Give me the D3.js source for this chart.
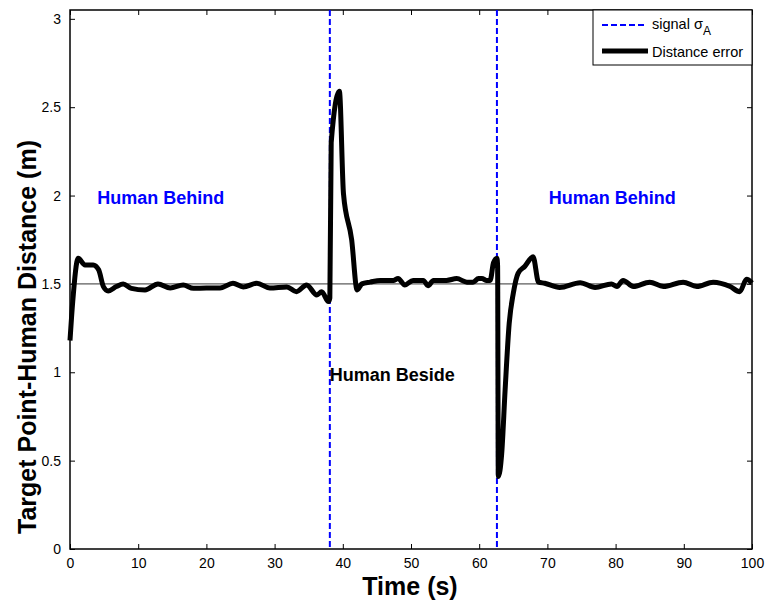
<!DOCTYPE html>
<html>
<head>
<meta charset="utf-8">
<script src="https://cdn.jsdelivr.net/npm/d3@7"></script>
<style>
  body { margin: 0; background: #fff; }
  svg { font-family: "Liberation Sans", Arial, sans-serif; }
</style>
</head>
<body>
<svg width="776" height="600"></svg>
<script>
  // time (s) and distance error (m)
  const time = [0, 0.4, 1.2, 2.2, 3.4, 4.2, 4.9, 5.6, 6.8, 7.8, 9.0, 11, 12.9, 14.7, 16.6, 18.1, 20, 22, 23.9, 25.4,
    27.4, 29.3, 31.8, 33.2, 34.7, 36.2, 36.9, 37.9, 38.1, 38.3, 39.5, 40.1, 41.3, 42.1, 42.8, 44, 45.5, 47.4,
    48.1, 49.1, 50.3, 51.8, 52.5, 53.3, 55.2, 56.7, 58.2, 59.1, 59.9, 60.4, 61.1, 61.6, 62.1, 62.6, 62.7,
    62.8, 63.3, 63.8, 64.4, 65, 65.7, 66.7, 67.9, 68.7, 69.6, 71.8, 74.8, 77, 79.4, 80.2, 81.1, 82.6, 85, 87,
    89.9, 91.9, 94.3, 96.8, 98.2, 99.2, 100]
  const distErr = [1.18, 1.40, 1.645, 1.607, 1.607, 1.58, 1.485, 1.46, 1.485, 1.50, 1.475, 1.466, 1.50, 1.477,
    1.494, 1.475, 1.477, 1.477, 1.504, 1.483, 1.504, 1.477, 1.483, 1.456, 1.494, 1.437, 1.456, 1.40, 1.42, 2.30,
    2.59, 2.01, 1.75, 1.466, 1.50, 1.51, 1.52, 1.52, 1.53, 1.494, 1.52, 1.52, 1.49, 1.52, 1.52, 1.53, 1.51, 1.51,
    1.53, 1.53, 1.52, 1.52, 1.62, 1.645, 1.60, 0.41, 0.54, 0.90, 1.277, 1.447, 1.56, 1.60, 1.654, 1.51, 1.504,
    1.48, 1.507, 1.48, 1.50, 1.485, 1.52, 1.485, 1.51, 1.485, 1.51, 1.485, 1.51, 1.485, 1.456, 1.526, 1.505]

  const signalTimes = [38.1, 62.6]
  const reference = 1.5
  const xTicks = [0, 10, 20, 30, 40, 50, 60, 70, 80, 90, 100]
  const yTicks = [0, 0.5, 1, 1.5, 2, 2.5, 3]
  const regionLabels = [
    { t: 13.3, v: 1.99, text: 'Human Behind', color: '#0000ff', anchor: 'middle' },
    { t: 79.5, v: 1.99, text: 'Human Behind', color: '#0000ff', anchor: 'middle' },
    { t: 38.1, v: 0.985, text: 'Human Beside', color: '#000', anchor: 'start' }
  ]

  const svg = d3.select('svg')
  const margin = { top: 10, right: 24, bottom: 51, left: 70 }
  const width = 776 - margin.left - margin.right
  const height = 600 - margin.top - margin.bottom

  const x = d3.scaleLinear().domain([0, 100]).range([0, width])
  const y = d3.scaleLinear().domain([0, 3.05]).range([height, 0])

  const g = svg.append('g').attr('transform', `translate(${margin.left},${margin.top})`)

  // axes, ticks pointing inward, box on all sides
  const tickStyle = sel => {
    sel.select('.domain').remove()
    sel.selectAll('line').attr('stroke', '#000')
    sel.selectAll('text').attr('font-size', 14).attr('fill', '#000')
  }
  g.append('g').attr('transform', `translate(0,${height})`).
    call(d3.axisBottom(x).tickValues(xTicks).tickSize(-5).tickPadding(9)).
    call(tickStyle)
  g.append('g').
    call(d3.axisLeft(y).tickValues(yTicks).tickFormat(d3.format('')).tickSize(-5).tickPadding(9)).
    call(tickStyle)
  g.append('g').
    call(d3.axisTop(x).tickValues(xTicks).tickSize(-5).tickFormat('')).
    call(tickStyle)
  g.append('g').attr('transform', `translate(${width},0)`).
    call(d3.axisRight(y).tickValues(yTicks).tickSize(-5).tickFormat('')).
    call(tickStyle)
  g.append('rect').attr('width', width).attr('height', height).
    attr('fill', 'none').attr('stroke', '#000').attr('stroke-width', 1.5)

  // reference line
  g.append('line').
    attr('x1', 0).attr('x2', width).
    attr('y1', y(reference)).attr('y2', y(reference)).
    attr('stroke', '#333').attr('stroke-width', 1)

  // signal switches
  g.selectAll('.signal').data(signalTimes).
    enter().append('line').
    attr('class', 'signal').
    attr('x1', d => x(d)).attr('x2', d => x(d)).
    attr('y1', 0).attr('y2', height).
    attr('stroke', '#0000ff').attr('stroke-width', 2).
    attr('stroke-dasharray', '6,3')

  const line = d3.line().x((d, i) => x(time[i])).y(d => y(d)).curve(d3.curveMonotoneX)
  g.append('path').datum(distErr).
    attr('d', line).
    attr('fill', 'none').attr('stroke', '#000').
    attr('stroke-width', 5).attr('stroke-linejoin', 'round')

  g.selectAll('.region').data(regionLabels).
    enter().append('text').
    attr('x', d => x(d.t)).attr('y', d => y(d.v)).
    attr('text-anchor', d => d.anchor).
    attr('dy', '0.35em').
    attr('font-size', 18).attr('font-weight', 'bold').
    attr('fill', d => d.color).
    text(d => d.text)

  // axis titles
  svg.append('text').
    attr('x', 410).attr('y', 595).
    attr('text-anchor', 'middle').
    attr('font-size', 25).attr('font-weight', 'bold').
    text('Time (s)')
  svg.append('text').
    attr('transform', 'translate(36,337) rotate(-90)').
    attr('text-anchor', 'middle').
    attr('font-size', 25).attr('font-weight', 'bold').
    text('Target Point-Human Distance (m)')

  // legend
  const lg = svg.append('g').attr('transform', `translate(593,${margin.top})`)
  lg.append('rect').attr('width', 159).attr('height', 55).
    attr('fill', '#fff').attr('stroke', '#000').attr('stroke-width', 1)
  lg.append('line').attr('x1', 9).attr('x2', 52).attr('y1', 15).attr('y2', 15).
    attr('stroke', '#0000ff').attr('stroke-width', 2).attr('stroke-dasharray', '6,3')
  lg.append('line').attr('x1', 9).attr('x2', 55).attr('y1', 41).attr('y2', 41).
    attr('stroke', '#000').attr('stroke-width', 5)
  const sig = lg.append('text').attr('x', 59).attr('y', 19).attr('font-size', 14.5)
  sig.append('tspan').text('signal σ')
  sig.append('tspan').attr('dy', 6).attr('font-size', 12).text('A')
  lg.append('text').attr('x', 59).attr('y', 47).attr('font-size', 14.5).text('Distance error')
</script>
</body>
</html>
